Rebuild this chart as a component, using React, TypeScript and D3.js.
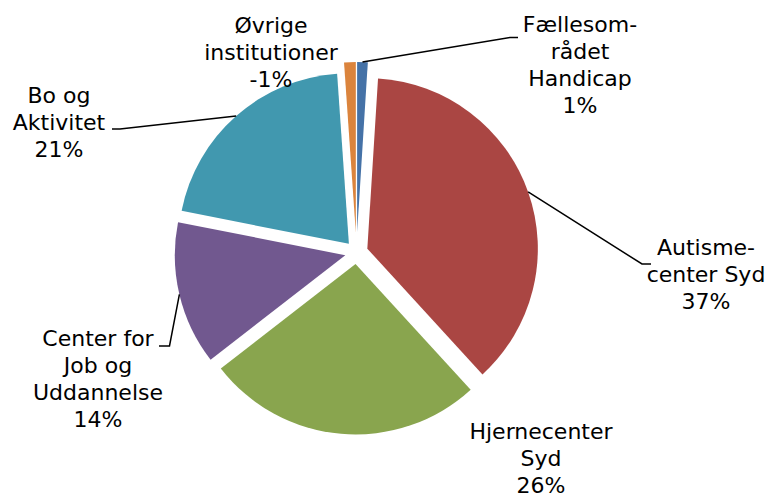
import React from "react";
import * as d3 from "d3";

const categories = [
  "Fællesområdet Handicap",
  "Autismecenter Syd",
  "Hjernecenter Syd",
  "Center for Job og Uddannelse",
  "Bo og Aktivitet",
  "Øvrige institutioner",
];
const values = [1.0, 37.2, 26.3, 13.6, 20.8, -1.1];
const labelLines = [
  ["Fællesom-", "rådet", "Handicap"],
  ["Autisme-", "center Syd"],
  ["Hjernecenter", "Syd"],
  ["Center for", "Job og", "Uddannelse"],
  ["Bo og", "Aktivitet"],
  ["Øvrige", "institutioner"],
];
const colors = ["#4572A7", "#AA4643", "#89A54E", "#71588F", "#4198AF", "#DB843D"];
const explode = [20, 11.5, 11.5, 11.5, 11.5, 20];

// label layout: center x, first baseline y, leader [elbowX, elbowY, endX] or null
const labelLayout = [
  { x: 580, y: 32, leader: [510, 37.5, 518] },
  { x: 706, y: 255, leader: [642, 264, 651] },
  { x: 541, y: 439, leader: null },
  { x: 98, y: 346, leader: [169.5, 346, 159] },
  { x: 59, y: 103, leader: [120, 129, 112] },
  { x: 271, y: 33, leader: null },
];

const W = 769;
const H = 498;
const cx = 356.5;
const cy = 252.5;
const R = 170.5;
const lineH = 27;

export default function App() {
  const pie = d3
    .pie<number>()
    .sort(null)
    .value((d) => Math.abs(d))
    .startAngle(0)
    .endAngle(2 * Math.PI);
  const arcs = pie(values);
  const arcGen = d3.arc<d3.PieArcDatum<number>>().innerRadius(0).outerRadius(R);

  return (
    <svg
      width={W}
      height={H}
      style={{ position: "absolute", left: 0, top: 0, background: "#fff" }}
      fontFamily="'DejaVu Sans', Verdana, sans-serif"
      fontSize={22}
    >
      <g transform={`translate(${cx},${cy})`}>
        {arcs.map((a, i) => {
          const mid = (a.startAngle + a.endAngle) / 2;
          const dx = explode[i] * Math.sin(mid);
          const dy = -explode[i] * Math.cos(mid);
          return (
            <path
              key={categories[i]}
              d={arcGen(a) || ""}
              transform={`translate(${dx},${dy})`}
              fill={colors[i]}
            />
          );
        })}
      </g>
      {arcs.map((a, i) => {
        const L = labelLayout[i];
        if (!L.leader) return null;
        const mid = (a.startAngle + a.endAngle) / 2;
        const ox = cx + (explode[i] + R) * Math.sin(mid);
        const oy = cy - (explode[i] + R) * Math.cos(mid);
        const [ex, ey, endX] = L.leader;
        return (
          <polyline
            key={"l" + i}
            points={`${ox},${oy} ${ex},${ey} ${endX},${ey}`}
            fill="none"
            stroke="#000"
            strokeWidth={1.5}
          />
        );
      })}
      {arcs.map((a, i) => {
        const L = labelLayout[i];
        const lines = [...labelLines[i], `${Math.round(values[i])}%`];
        return (
          <text key={"t" + i} textAnchor="middle" fill="#000">
            {lines.map((ln, j) => (
              <tspan key={j} x={L.x} y={L.y + j * lineH}>
                {ln}
              </tspan>
            ))}
          </text>
        );
      })}
    </svg>
  );
}
